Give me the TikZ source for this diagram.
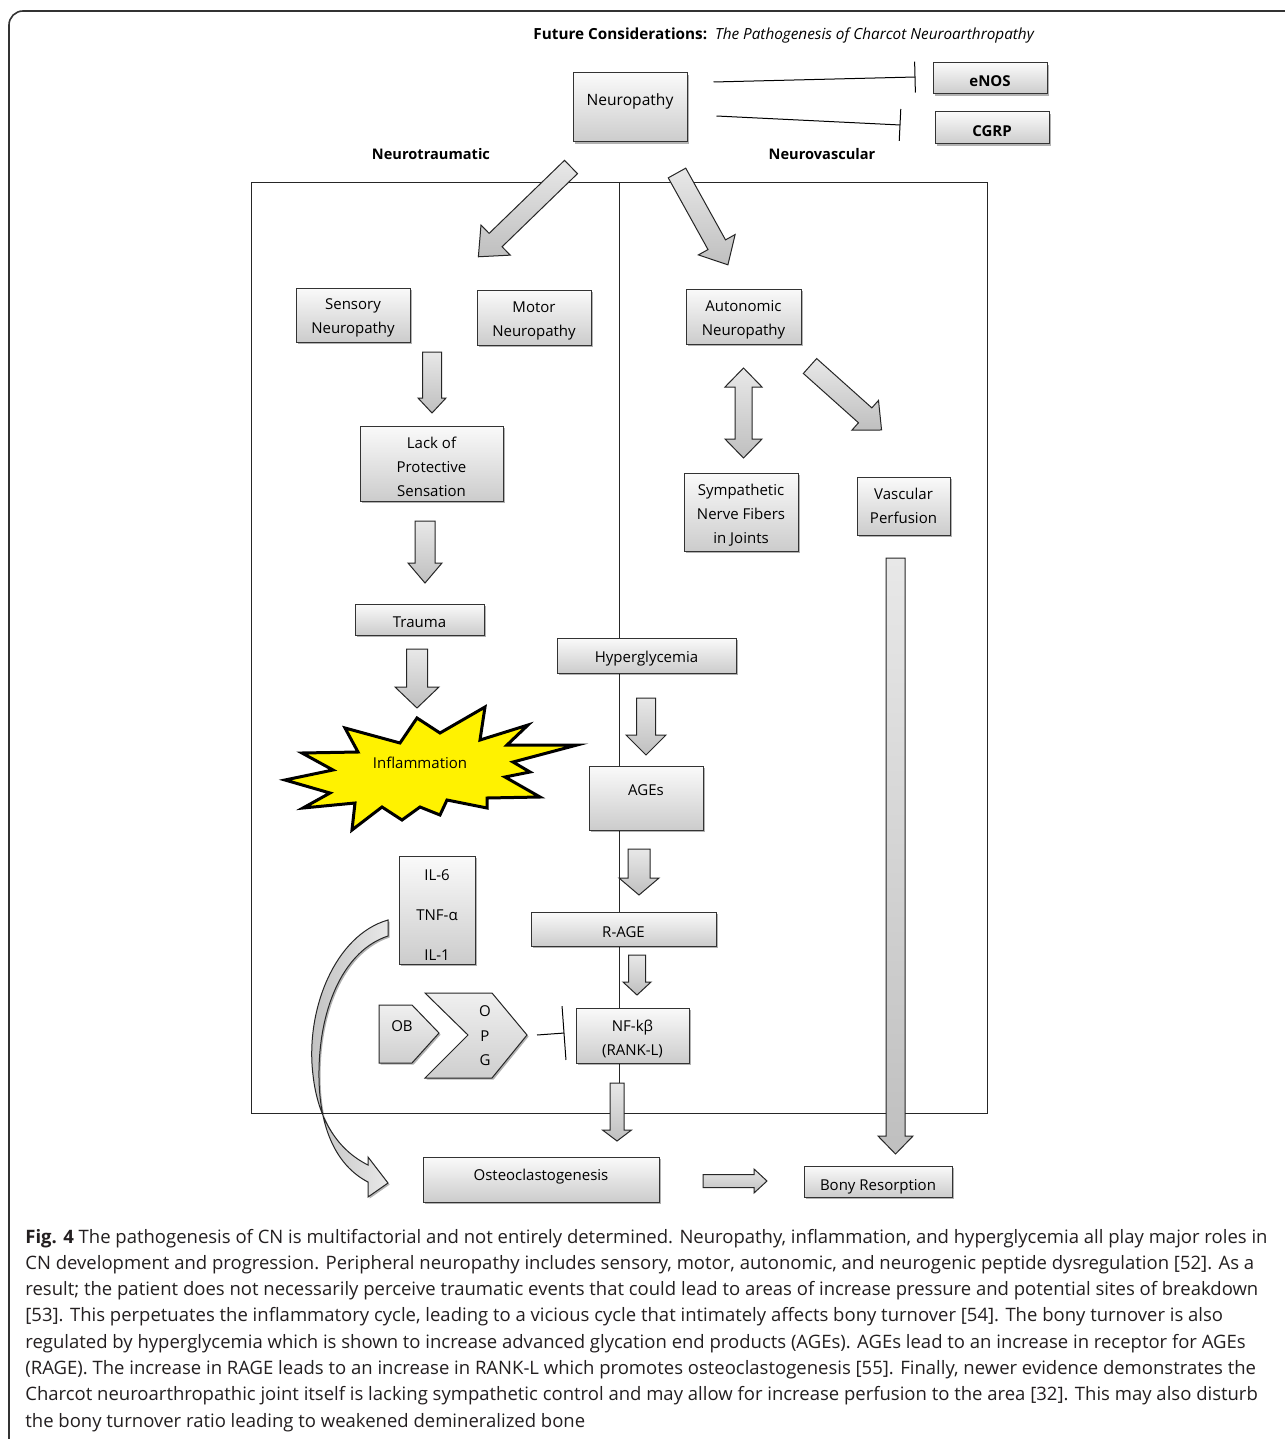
\documentclass[tikz,border=0pt]{standalone}
\usepackage{fontspec}
\setmainfont{Open Sans}
\usetikzlibrary{shadows,arrows.meta,calc}
\definecolor{capcol}{HTML}{231F20}
\newcommand\barrow[7]{%
  \begin{scope}[shift={(#1,#2)}, rotate=#3]
    \path[blockarrow] (0,-#5) -- ({#4-#7},-#5) -- ({#4-#7},-#6) -- (#4,0) -- ({#4-#7},#6) -- ({#4-#7},#5) -- (0,#5) -- cycle;
  \end{scope}}
% box with its text: [text options]{name}{x}{y}{width pt}{height pt}{text}
\newcommand\bx[7][]{%
  \node[box, minimum width=#5pt, minimum height=#6pt] (#2) at (#3,#4) {};
  \node[txt, yshift=-1.5pt, #1] (#2t) at (#2.center) {#7};}
\begin{document}
\begin{tikzpicture}[x=0.5pt,y=-0.5pt,
  shadowed/.style={drop shadow={shadow xshift=0.8pt,shadow yshift=-0.8pt,opacity=0.3,fill=black}},
  box/.style={draw=black!80, line width=0.5pt, top color=gray!4, bottom color=gray!40,
     inner sep=0pt, shadowed},
  txt/.style={inner sep=0pt, align=center, font=\fontsize{7.5}{12}\selectfont},
  blockarrow/.style={draw=black!85, line width=0.5pt, top color=gray!18, bottom color=gray!50},
  inhib/.style={draw=black, line width=0.5pt, -{Bar[width=#1]}},
  lbl/.style={inner sep=0pt, font=\fontsize{7.3}{9}\selectfont\bfseries},
  capline/.style={anchor=base west, inner sep=0pt, text=capcol, font=\fontsize{9.25}{13}\selectfont}]
\useasboundingbox (0,0) rectangle (1284,1439);
\fill[white] (0,0) rectangle (1284,1439);
% outer frame
\draw[line width=0.8pt, black!80, rounded corners=7pt] (1300,11) -- (9,11) -- (9,1470);
% title
\node[anchor=west, inner sep=0pt, font=\fontsize{7.65}{9}\selectfont] (title) at (533,35)
  {\bfseries Future Considerations:\ \ \mdseries\itshape The Pathogenesis of Charcot Neuroarthropathy};
% section frame
\draw[line width=0.5pt, black!85] (251,183) rectangle (987,1113);
\draw[line width=0.5pt, black!85] (619,183) -- (619,1113);
\node[lbl] (ntr) at (431,154) {Neurotraumatic};
\node[lbl] (nvs) at (822,154) {Neurovascular};
% boxes
\node[box, minimum width=57pt, minimum height=34.5pt] (neuro) at (630,107.5) {};
\node[txt, font=\fontsize{7.8}{12}\selectfont] (neurot) at (630,101) {Neuropathy};
\bx[font=\fontsize{7.5}{12}\selectfont\bfseries]{enos}{990}{78.5}{57}{15.5}{eNOS}
\bx[font=\fontsize{7.5}{12}\selectfont\bfseries]{cgrp}{992}{128}{57}{16}{CGRP}
\bx{sens}{353}{315}{57}{27}{Sensory\\Neuropathy}
\bx{motor}{534}{317.5}{57}{27.5}{Motor\\Neuropathy}
\bx{auto}{743.5}{316.5}{57.5}{27.5}{Autonomic\\Neuropathy}
\bx[yshift=-0.3pt]{lack}{431.5}{463.5}{71.5}{37.5}{Lack of\\Protective\\Sensation}
\bx{symp}{741}{512}{57}{39}{Sympathetic\\Nerve Fibers\\in Joints}
\bx[yshift=1.5pt]{vasc}{903.5}{506}{46.5}{29}{Vascular\\Perfusion}
\bx{trauma}{419.5}{619.5}{64.5}{15.5}{Trauma}
\bx{hyper}{646.5}{655.5}{89.5}{17.5}{Hyperglycemia}
\node[box, minimum width=57pt, minimum height=32pt] (ages) at (646,798) {};
\node[txt] (agest) at (646,790.5) {AGEs};
\bx[font=\fontsize{7.5}{20}\selectfont, yshift=-1pt]{il}{437}{910}{38}{54}{IL-6\\TNF-α\\IL-1}
\bx{rage}{623.5}{929}{92.5}{17}{R-AGE}
\bx{nf}{632.5}{1035.5}{56.5}{27.5}{NF-kβ\\(RANK-L)}
\node[box, minimum width=118pt, minimum height=22.5pt] (osteo) at (541,1179.5) {};
\node[txt] (osteot) at (541,1177) {Osteoclastogenesis};
\bx[yshift=-1pt]{bony}{878}{1181.5}{74}{15.5}{Bony Resorption}
% inhibition connectors
\draw[inhib=15.5pt] ([shift={(26,-25.5)}]neuro.east) -- ([shift={(-17,-1.5)}]enos.west);
\draw[inhib=16pt] ([shift={(29,8.5)}]neuro.east) -- ([shift={(-34,-3)}]cgrp.west);
% block arrows
\barrow{571}{167}{-135.9}{129}{9.3}{21}{24}
\barrow{677}{173}{-61}{105}{10}{21}{23}
\barrow{432}{352}{-90}{61}{9.5}{14}{15}
\barrow{425}{521}{-90}{62}{10}{17}{20}
\barrow{417}{649}{-90}{59}{10.5}{22}{21}
\barrow{646}{698}{-90}{57}{9.5}{20}{20}
\barrow{639}{849}{-90}{46}{11}{20}{17}
\barrow{637}{955}{-90}{40}{8.5}{14}{13}
\barrow{617}{1083}{-90}{58}{7}{14.5}{11}
\barrow{703}{1181}{0}{64}{6.5}{12}{13}
\barrow{895.5}{558}{-90}{596}{9.5}{17.5}{18}
\barrow{810}{366}{-41.8}{96}{10}{20}{22}
% double arrow
\path[blockarrow] (743.5,368) -- (762,387) -- (752,387) -- (752,439) -- (762,439) -- (743.5,458)
  -- (725,439) -- (735,439) -- (735,387) -- (725,387) -- cycle;
% inflammation star
\path[draw=black, line width=1.5pt, fill=yellow, line join=miter] (285,780) -- (333,770) -- (302,753) -- (358,752)
  -- (345,728) -- (400,743) -- (417,718) -- (440,733) -- (485,707) -- (480,740) -- (528,725)
  -- (507,745) -- (577,745) -- (513,762) -- (530,772) -- (505,777) -- (540,797) -- (487,798)
  -- (487,808) -- (447,800) -- (440,815) -- (420,807) -- (402,820) -- (382,807) -- (352,830)
  -- (355,803) -- (303,808) -- (330,793) -- cycle;
\node[txt] (infl) at (420,763) {Inflammation};
% curved arrow from cytokines to osteoclastogenesis
\path[blockarrow, left color=gray!50, right color=gray!18, shadowed]
  (388,920) .. controls (335,935) and (305,1010) .. (313,1075)
  .. controls (318,1120) and (338,1150) .. (368,1165) -- (368,1157) -- (388,1183) -- (368,1197) -- (368,1182)
  .. controls (335,1165) and (318,1125) .. (319,1070)
  .. controls (320,1005) and (345,950) .. (388,936) -- cycle;
% OB and OPG
\path[blockarrow, top color=gray!12, bottom color=gray!38, shadowed] (379,1005) -- (412,1005) -- (439,1033) -- (412,1063) -- (379,1063) -- cycle;
\node[txt] (ob) at (402,1026) {OB};
\path[blockarrow, top color=gray!12, bottom color=gray!38, shadowed] (425,993) -- (492,993) -- (527,1035) -- (492,1078) -- (425,1078) -- (468,1035) -- cycle;
\coordinate (opgtip) at (527,1035);
\node[txt] (opgo) at (485,1011) {O};
\node[txt] (opgp) at (485,1036) {P};
\node[txt] (opgg) at (485,1060) {G};
\draw[inhib=27pt] ([xshift=5pt]opgtip) -- ([shift={(-11,-2.5)}]nf.west);
% caption
\node[capline] (cap1) at (25,1243) {\textbf{Fig. 4} The pathogenesis of CN is multifactorial and not entirely determined. Neuropathy, inflammation, and hyperglycemia all play major roles in};
\node[capline] (cap2) at (25,1269.3) {CN development and progression. Peripheral neuropathy includes sensory, motor, autonomic, and neurogenic peptide dysregulation [52]. As a};
\node[capline] (cap3) at (25,1295.6) {result; the patient does not necessarily perceive traumatic events that could lead to areas of increase pressure and potential sites of breakdown};
\node[capline] (cap4) at (25,1321.9) {[53]. This perpetuates the inflammatory cycle, leading to a vicious cycle that intimately affects bony turnover [54]. The bony turnover is also};
\node[capline] (cap5) at (25,1348.2) {regulated by hyperglycemia which is shown to increase advanced glycation end products (AGEs). AGEs lead to an increase in receptor for AGEs};
\node[capline] (cap6) at (25,1374.5) {(RAGE). The increase in RAGE leads to an increase in RANK-L which promotes osteoclastogenesis [55]. Finally, newer evidence demonstrates the};
\node[capline] (cap7) at (25,1400.8) {Charcot neuroarthropathic joint itself is lacking sympathetic control and may allow for increase perfusion to the area [32]. This may also disturb};
\node[capline] (cap8) at (25,1427.1) {the bony turnover ratio leading to weakened demineralized bone};
\end{tikzpicture}
\end{document}
